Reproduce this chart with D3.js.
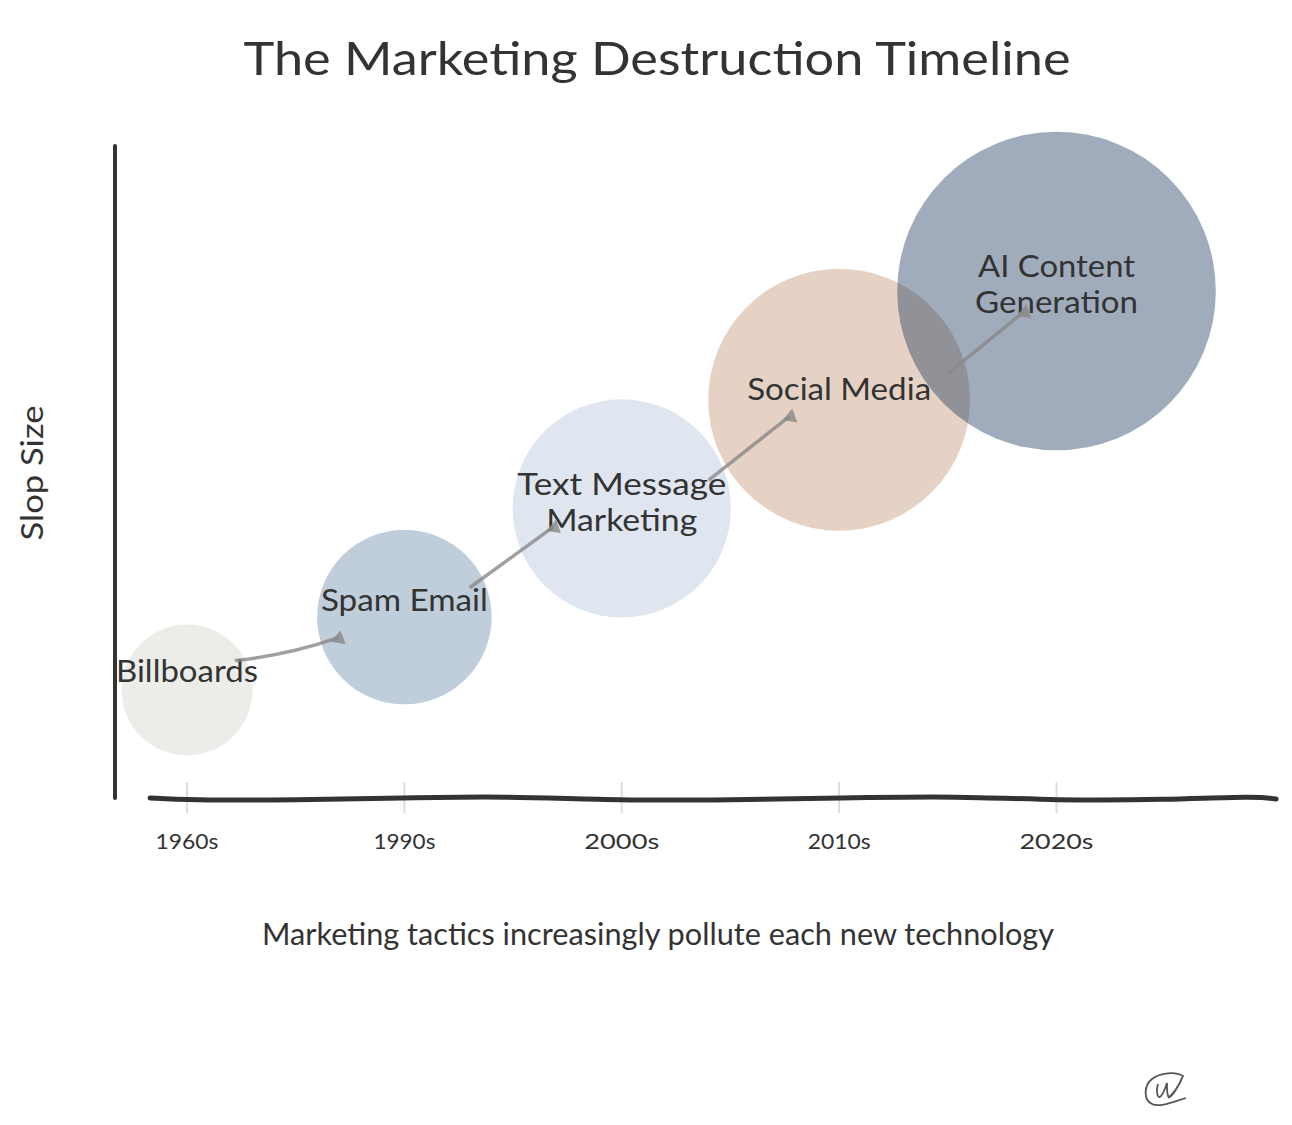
<!DOCTYPE html>
<html>
<head>
<meta charset="utf-8">
<script src="https://cdn.jsdelivr.net/npm/d3@7"></script>
<style>
  html, body { margin: 0; background: #fff; }
  text { font-family: "Lato", sans-serif; fill: #333; }
</style>
</head>
<body>
<svg id="chart" width="1292" height="1125"></svg>
<script>
var decades = ["1960s", "1990s", "2000s", "2010s", "2020s"];
var tacticLines = [["Billboards"], ["Spam Email"], ["Text Message", "Marketing"], ["Social Media"], ["AI Content", "Generation"]];
var slopLevel = [1.33, 2, 3, 4, 5];
var bubbleSize = [30, 40, 50, 60, 73];
var bubbleColors = ["#d0d2c8", "#6284a7", "#b1c0d7", "#c08e6b", "#112f57"];

// arrows between bubbles, in data units (decade index, slop level)
var arrowFromX = [0.22, 1.30, 2.40, 3.50];
var arrowFromY = [1.60, 2.27, 3.26, 4.24];
var arrowToX = [0.695, 1.686, 2.773, 3.85];
var arrowToY = [1.81, 2.83, 3.85, 4.81];
var arrowBend = [0.06, 0, 0, 0];

// the hand drawn baseline wobble
var baselineX = [-0.17, 0, 0.5, 1, 1.45, 2, 2.5, 3, 3.55, 4, 4.5, 4.92, 5.01];
var baselineY = [0.335, 0.315, 0.315, 0.335, 0.352, 0.312, 0.318, 0.335, 0.352, 0.312, 0.318, 0.352, 0.325];

var svg = d3.select("#chart");

var x = d3.scaleLinear().domain([0, 4]).range([187, 1056.5]);
var y = d3.scaleLinear().domain([0.335, 6.335]).range([798, 146]);
var r = d3.scaleLinear().domain([0, 73]).range([0, 159.3]);

// sets text width to match the reference, the hand font is not installed
function fitted(sel, width) {
    return sel.attr("textLength", width).attr("lengthAdjust", "spacingAndGlyphs");
}

fitted(svg.append("text")
    .attr("x", 657).attr("y", 75)
    .attr("text-anchor", "middle")
    .style("font-size", "46px")
    .text("The Marketing Destruction Timeline"), 827);

// Y axis, no ticks
svg.append("path")
    .attr("d", d3.line()([[x.range()[0] - 72, y.range()[0]], [x.range()[0] - 72, y.range()[1]]]))
    .attr("fill", "none").attr("stroke", "#333").attr("stroke-width", 4).attr("stroke-linecap", "round");

// X ticks
var ticks = svg.append("g").selectAll("g").data(decades).join("g")
    .attr("transform", function(d, i) { return "translate(" + x(i) + ",0)"; });
ticks.append("line")
    .attr("y1", y.range()[0] - 16).attr("y2", y.range()[0] + 15)
    .attr("stroke", "#ddd").attr("stroke-width", 2);
ticks.append("text")
    .attr("y", 849)
    .attr("text-anchor", "middle")
    .style("font-size", "22px")
    .text(function(d) { return d; })
    .each(function(d, i) { fitted(d3.select(this), [63, 62, 75, 63, 74][i]); });

// X baseline
var baseline = d3.line().curve(d3.curveBasis)
    .x(function(d) { return x(d); })
    .y(function(d, i) { return y(baselineY[i]); });
svg.append("path")
    .attr("d", baseline(baselineX))
    .attr("fill", "none").attr("stroke", "#333").attr("stroke-width", 5).attr("stroke-linecap", "round");

// Bubbles
svg.append("g").selectAll("circle").data(decades).join("circle")
    .attr("cx", function(d, i) { return x(i); })
    .attr("cy", function(d, i) { return y(slopLevel[i]); })
    .attr("r", function(d, i) { return r(bubbleSize[i]); })
    .attr("fill", function(d, i) { return bubbleColors[i]; })
    .attr("fill-opacity", 0.4);

// Bubble labels
var labelWidths = [[142], [167], [209, 151], [184], [157, 163]];
var labelDy = [[-8], [-6], [-13, 23], [0], [-14, 22]];
var labels = svg.append("g").selectAll("g").data(tacticLines).join("g")
    .attr("transform", function(d, i) { return "translate(" + x(i) + "," + y(slopLevel[i]) + ")"; });
labels.each(function(lines, i) {
    d3.select(this).selectAll("text").data(lines).join("text")
        .attr("text-anchor", "middle")
        .attr("y", function(d, j) { return labelDy[i][j]; })
        .style("font-size", "31px")
        .text(function(d) { return d; })
        .each(function(d, j) { fitted(d3.select(this), labelWidths[i][j]); });
});

// Arrows
var arrows = svg.append("g").selectAll("g").data(arrowFromX).join("g");
arrows.append("path")
    .attr("d", function(d, i) {
        var x0 = x(d), y0 = y(arrowFromY[i]), x1 = x(arrowToX[i]), y1 = y(arrowToY[i]);
        var bend = arrowBend[i];
        var p = d3.path();
        p.moveTo(x0, y0);
        p.quadraticCurveTo((x0 + x1) / 2 + (y0 - y1) * bend, (y0 + y1) / 2 + (x1 - x0) * bend, x1, y1);
        return p.toString();
    })
    .attr("fill", "none").attr("stroke", "#888").attr("stroke-opacity", 0.8).attr("stroke-width", 3.5);
arrows.append("path")
    .attr("d", d3.symbol(d3.symbolTriangle, 95))
    .attr("transform", function(d, i) {
        return "translate(" + (x(arrowToX[i]) + 1) + "," + (y(arrowToY[i]) + 1) + ") rotate(10)";
    })
    .attr("fill", "#888").attr("fill-opacity", 0.8);

fitted(svg.append("text")
    .attr("x", 658).attr("y", 945)
    .attr("text-anchor", "middle")
    .style("font-size", "30px")
    .text("Marketing tactics increasingly pollute each new technology"), 792);

fitted(svg.append("text")
    .attr("transform", "translate(43,473) rotate(-90)")
    .attr("text-anchor", "middle")
    .style("font-size", "30px")
    .text("Slop Size"), 135);

// signature
svg.append("path")
    .attr("d", "M1186,1098 C1175,1101 1160,1108 1152,1104 C1143,1100 1144,1085 1152,1079 C1160,1073 1175,1071 1183,1076 C1180,1085 1172,1095 1168,1098 M1158,1084 C1156,1090 1157,1098 1160,1097 C1163,1095 1166,1086 1167,1083 C1167,1090 1167,1098 1170,1097 C1174,1094 1178,1087 1182,1078")
    .attr("fill", "none").attr("stroke", "#555").attr("stroke-width", 1.8);
</script>
</body>
</html>
